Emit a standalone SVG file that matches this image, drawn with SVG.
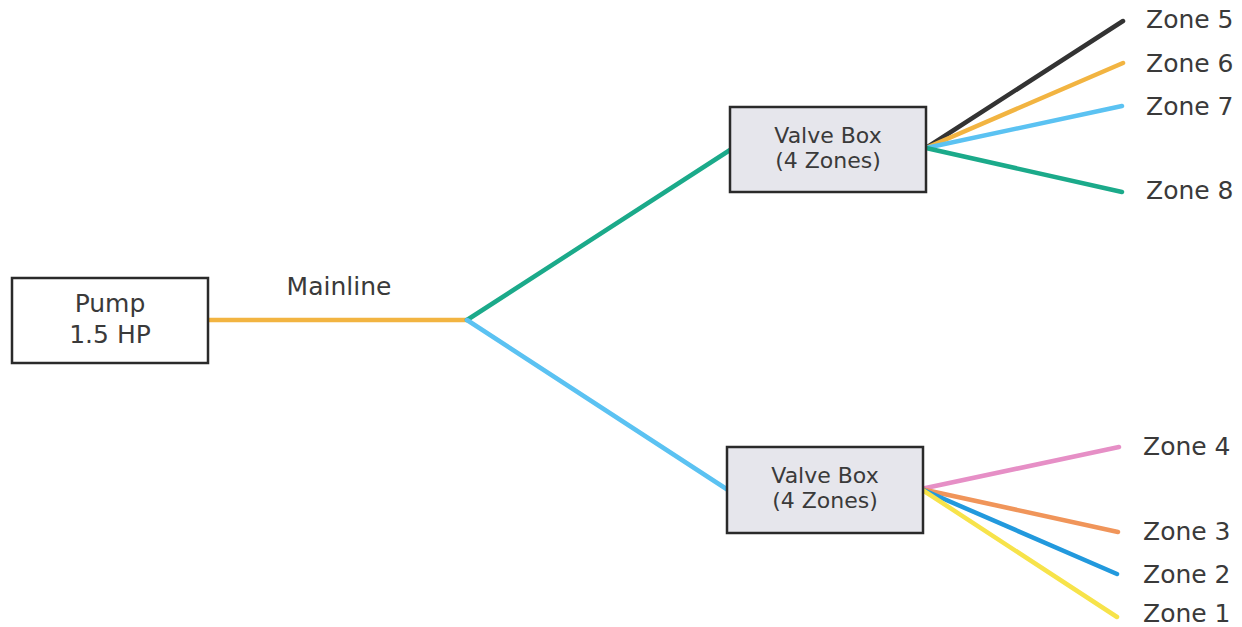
<svg xmlns="http://www.w3.org/2000/svg" width="1242" height="627" viewBox="0 0 1242 627">
<style>
text{font-family:"DejaVu Sans","Liberation Sans",sans-serif;fill:#3a3a3a}
.lbl{font-size:25px}
.vb{font-size:22px}
.box{stroke:#2a2a2a;stroke-width:2.5}
.ln{fill:none;stroke-width:4.5;stroke-linecap:round}
</style>
<rect width="1242" height="627" fill="#ffffff"/>
<g id="connectors">
<line class="ln" x1="208" y1="320" x2="467" y2="320" stroke="#F2B441"/>
<line class="ln" x1="467" y1="320" x2="730" y2="150" stroke="#1BAA8A"/>
<line class="ln" x1="467" y1="320" x2="728" y2="490" stroke="#5BC2F2"/>
<line class="ln" x1="926" y1="148" x2="1123" y2="21" stroke="#333333"/>
<line class="ln" x1="926" y1="148" x2="1123" y2="63" stroke="#F2B441"/>
<line class="ln" x1="926" y1="148" x2="1122" y2="106" stroke="#5BC2F2"/>
<line class="ln" x1="926" y1="148" x2="1122" y2="192" stroke="#1BAA8A"/>
<line class="ln" x1="921" y1="489" x2="1119" y2="447" stroke="#E68FC6"/>
<line class="ln" x1="921" y1="489" x2="1118" y2="532" stroke="#F0955A"/>
<line class="ln" x1="921" y1="489" x2="1117" y2="574" stroke="#2299DD"/>
<line class="ln" x1="921" y1="489" x2="1117" y2="617" stroke="#F7E34A"/>
</g>
<g id="pump">
<rect class="box" x="12" y="278" width="196" height="85" fill="#ffffff"/>
<text class="lbl" x="110" y="312" text-anchor="middle">Pump</text>
<text class="lbl" x="110" y="343" text-anchor="middle">1.5 HP</text>
</g>
<g id="mainline-label">
<text class="lbl" x="339" y="295" text-anchor="middle">Mainline</text>
</g>
<g id="valvebox-top">
<rect class="box" x="730" y="107" width="196" height="85" fill="#E6E6EC"/>
<text class="vb" x="828" y="143" text-anchor="middle">Valve Box</text>
<text class="vb" x="828" y="168" text-anchor="middle">(4 Zones)</text>
</g>
<g id="valvebox-bottom">
<rect class="box" x="727" y="447" width="196" height="86" fill="#E6E6EC"/>
<text class="vb" x="825" y="483" text-anchor="middle">Valve Box</text>
<text class="vb" x="825" y="508" text-anchor="middle">(4 Zones)</text>
</g>
<g id="zone-labels">
<text class="lbl" x="1146" y="28">Zone 5</text>
<text class="lbl" x="1146" y="72">Zone 6</text>
<text class="lbl" x="1146" y="115">Zone 7</text>
<text class="lbl" x="1146" y="199">Zone 8</text>
<text class="lbl" x="1143" y="455">Zone 4</text>
<text class="lbl" x="1143" y="540">Zone 3</text>
<text class="lbl" x="1143" y="583">Zone 2</text>
<text class="lbl" x="1143" y="622">Zone 1</text>
</g>
</svg>
